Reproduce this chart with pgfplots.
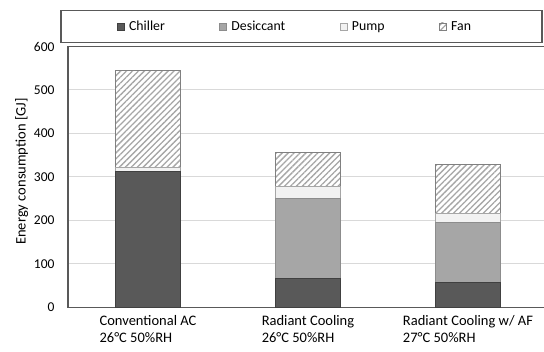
\documentclass[border=0pt]{standalone}
\usepackage{fontspec}
\setmainfont{Carlito}
\usepackage{pgfplots}
\pgfplotsset{compat=1.18}
\usetikzlibrary{patterns.meta}

\definecolor{chiller}{HTML}{595959}
\definecolor{desic}{HTML}{A6A6A6}
\definecolor{pump}{HTML}{F2F2F2}
\definecolor{axisgray}{HTML}{595959}
\definecolor{gridgray}{HTML}{D9D9D9}

\begin{document}
\begin{tikzpicture}
\begin{axis}[
    at={(68pt,44.5pt)}, anchor=south west,
    scale only axis,
    width=480pt, height=261pt,
    ybar stacked,
    bar width=65pt,
    xmin=-0.5, xmax=2.5,
    ymin=0, ymax=600,
    ytick={0,100,...,600},
    xtick=data,
    xticklabels={{Conventional AC\\26°C 50\%RH},{Radiant Cooling\\26°C 50\%RH},{Radiant Cooling w/ AF\\27°C 50\%RH}},
    xticklabel style={align=left, font=\fontsize{14.5}{17.5}\selectfont, yshift=-4pt},
    yticklabel style={font=\fontsize{13.5}{16}\selectfont, xshift=-10pt},
    /pgf/number format/assume math mode=true,
    ylabel={Energy consumption [GJ]},
    ylabel style={font=\fontsize{14.5}{16}\selectfont, at={(axis description cs:-0.0965,0.521)}, anchor=center},
    major tick length=0pt,
    axis line style={axisgray, line width=1.2pt},
    ymajorgrids,
    grid style={gridgray, line width=1pt},
    legend columns=4,
    legend style={at={(0.4865,1.0766)}, anchor=center, draw=axisgray, line width=1.2pt,
        font=\fontsize{13.8}{16}\selectfont, inner xsep=56pt, inner ysep=8.5pt,
        /tikz/every odd column/.append style={column sep=2.5pt},
        /tikz/every even column/.append style={column sep=52.5pt}},
    legend image code/.code={\draw[#1, line width=0.6pt] (0pt,-3.5pt) rectangle (7pt,3.5pt);},
]
\addplot[fill=chiller, draw=black!75, line width=0.8pt] coordinates {(0,312) (1,67) (2,57)};
\addplot[fill=desic, draw=black!45, line width=0.8pt] coordinates {(0,0) (1,184) (2,138)};
\addplot[fill=pump, draw=black!35, line width=0.8pt] coordinates {(0,10) (1,27) (2,21)};
\addplot[fill=white, postaction={pattern={Lines[angle=45,distance=4.2pt,line width=1.3pt]}, pattern color=black!35}, draw=black!50, line width=0.8pt] coordinates {(0,222) (1,78) (2,113)};
\legend{Chiller, Desiccant, Pump, Fan\hspace*{13pt}}
\end{axis}
\pgfresetboundingbox
\path[use as bounding box] (0,0) rectangle (544pt,352pt);
\end{tikzpicture}
\end{document}
